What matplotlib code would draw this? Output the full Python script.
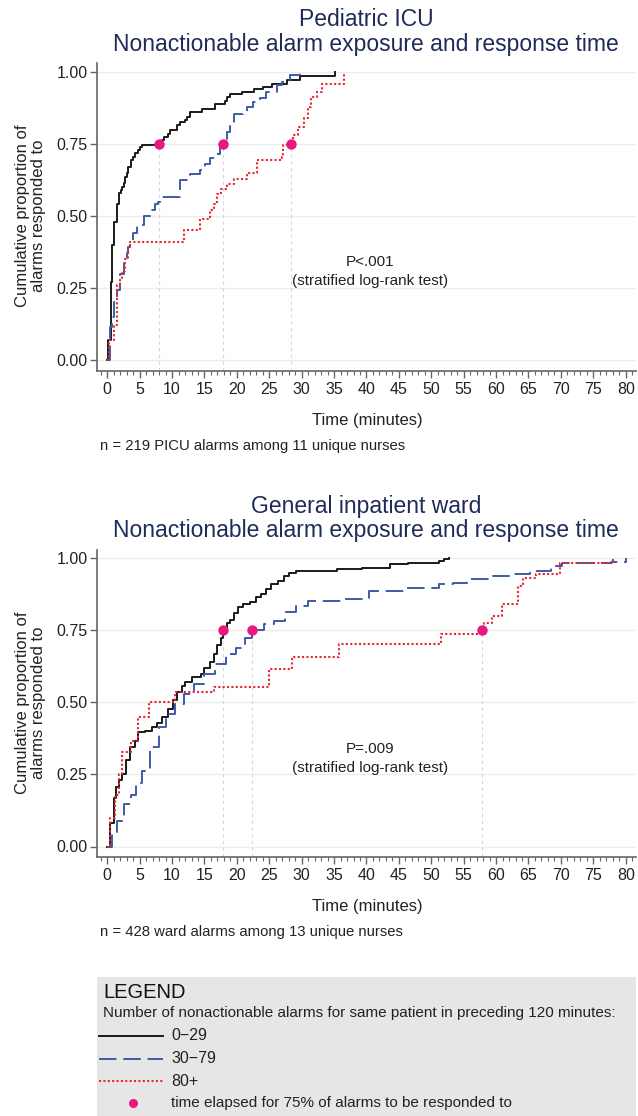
import matplotlib
matplotlib.use('Agg')
import matplotlib.pyplot as plt
from matplotlib.ticker import MultipleLocator, FixedLocator

plt.rcParams['font.family'] = ['Liberation Sans', 'DejaVu Sans']

# ---------------- data ----------------
groups = ['0\u221229', '30\u221279', '80+']

picu_black_t = [0, 0.17, 0.53, 0.8, 1.1, 1.46, 1.87, 2.1, 2.3, 2.5, 2.75, 3.0, 3.26, 3.6, 4.0, 4.3, 4.7,
                5.06, 5.3, 8.4, 8.8, 9.4, 9.7, 10.7, 11.2, 12.0, 12.3, 12.8, 14.6, 16.6, 18.2, 18.4, 18.9,
                20.8, 22.6, 24.1, 25.4, 27.7, 29.7, 35.1]
picu_black_p = [0, 0.07, 0.27, 0.40, 0.48, 0.54, 0.58, 0.59, 0.60, 0.613, 0.636, 0.65, 0.67, 0.694, 0.705,
                0.72, 0.73, 0.74, 0.746, 0.763, 0.775, 0.786, 0.798, 0.815, 0.827, 0.835, 0.844, 0.861, 0.873,
                0.89, 0.90, 0.913, 0.925, 0.93, 0.942, 0.948, 0.957, 0.971, 0.985, 1.0]

picu_blue_t = [0, 0.43, 0.69, 1.0, 1.46, 1.97, 2.5, 3.0, 3.27, 3.53, 4.03, 4.6, 5.6, 6.7, 7.4, 7.9, 8.15,
               11.2, 12.5, 12.8, 14.3, 15.1, 15.9, 16.6, 17.4, 17.8, 18.4, 19.0, 19.5, 21.0, 21.5, 22.5,
               23.5, 24.5, 26.2, 27.0, 28.2, 29.7]
picu_blue_p = [0, 0.116, 0.15, 0.20, 0.244, 0.30, 0.336, 0.37, 0.394, 0.41, 0.44, 0.47, 0.50, 0.52, 0.543,
               0.549, 0.566, 0.624, 0.635, 0.645, 0.66, 0.68, 0.70, 0.717, 0.74, 0.75, 0.79, 0.82, 0.855,
               0.862, 0.88, 0.895, 0.91, 0.93, 0.954, 0.965, 0.988, 1.0]

picu_red_t = [0, 0.2, 1.0, 1.46, 1.97, 2.2, 2.76, 3.27, 3.5, 11.8, 14.3, 15.9, 16.4, 16.9, 17.6, 18.5,
              19.5, 21.5, 23.1, 26.9, 27.1, 28.7, 29.5, 30.3, 31.0, 31.5, 32.3, 33.1, 36.5]
picu_red_p = [0, 0.07, 0.12, 0.26, 0.28, 0.31, 0.35, 0.39, 0.41, 0.45, 0.49, 0.52, 0.543, 0.578, 0.595,
              0.61, 0.63, 0.65, 0.694, 0.705, 0.745, 0.78, 0.81, 0.84, 0.88, 0.913, 0.93, 0.96, 1.0]

ward_black_t = [0, 0.43, 0.97, 1.4, 1.78, 2.3, 2.86, 3.57, 4.2, 4.75, 5.8, 6.9, 7.7, 8.5, 9.3, 10.2, 10.7,
                11.5, 12.0, 13.1, 14.5, 15.0, 15.8, 16.4, 16.9, 17.5, 17.8, 18.5, 19.0, 19.6, 20.2, 21.0,
                22.0, 22.9, 23.7, 24.5, 25.3, 26.4, 27.2, 28.0, 29.1, 35.5, 39.3, 43.7, 46.4, 51.2, 52.0, 52.7]
ward_black_p = [0, 0.08, 0.17, 0.205, 0.23, 0.25, 0.30, 0.344, 0.367, 0.396, 0.40, 0.413, 0.43, 0.448,
                0.477, 0.51, 0.535, 0.558, 0.57, 0.587, 0.598, 0.62, 0.64, 0.667, 0.70, 0.725, 0.75, 0.777,
                0.785, 0.81, 0.83, 0.84, 0.85, 0.864, 0.875, 0.893, 0.91, 0.92, 0.94, 0.95, 0.956, 0.962,
                0.968, 0.979, 0.985, 0.99, 0.997, 1.0]

ward_blue_t = [0, 0.7, 1.5, 2.6, 3.7, 4.5, 5.3, 6.6, 8.0, 9.1, 10.4, 11.8, 13.4, 15.0, 16.6, 18.3, 19.9,
               21.2, 22.4, 24.2, 25.8, 27.4, 29.1, 31.0, 36.1, 40.4, 45.8, 51.2, 53.4, 55.5, 58.8, 62.0,
               65.3, 68.5, 70.1, 77.7, 80.0]
ward_blue_p = [0, 0.044, 0.09, 0.148, 0.18, 0.22, 0.263, 0.344, 0.413, 0.46, 0.494, 0.529, 0.563, 0.598,
               0.633, 0.667, 0.69, 0.725, 0.75, 0.771, 0.783, 0.812, 0.835, 0.852, 0.858, 0.887, 0.898,
               0.91, 0.916, 0.927, 0.939, 0.945, 0.956, 0.973, 0.985, 0.988, 1.0]

ward_red_t = [0, 0.43, 1.24, 1.78, 2.3, 3.67, 4.75, 6.4, 10.4, 16.5, 25.0, 28.5, 35.8, 51.5, 57.8, 58.2,
              59.3, 60.9, 63.4, 64.2, 66.1, 69.9, 78.0]
ward_red_p = [0, 0.10, 0.18, 0.25, 0.327, 0.367, 0.448, 0.50, 0.535, 0.552, 0.615, 0.656, 0.704, 0.739,
              0.75, 0.777, 0.80, 0.84, 0.904, 0.933, 0.945, 0.985, 1.0]

picu_t75 = [8.0, 17.8, 28.4]
ward_t75 = [17.8, 22.4, 57.8]
q75 = 0.75

yticks = [0.0, 0.25, 0.5, 0.75, 1.0]
ytick_labels = ['0.00', '0.25', '0.50', '0.75', '1.00']
xticks = list(range(0, 81, 5))

# ---------------- style ----------------
W, H = 638, 1116
colors = ['#1a1a1a', '#3d5ca8', '#e8262f']
styles = ['-', (0, (9, 3.5)), (0, (1.0, 1.1))]
widths = [1.4, 1.4, 1.5]
marker_color = '#e9187c'
title_color = '#1f2b58'
spine_color = '#666666'

fig = plt.figure(figsize=(W / 100, H / 100), dpi=100)


def fx(px):
    return px / W


def fy(py):
    return 1 - py / H


def make_panel(top_px, zero_px, one_px, spine_px, series, t75, title1, title2, ptext, ntext):
    unit = zero_px - one_px
    ybot = -(spine_px - zero_px) / unit
    ytop = 1.03
    top_edge = one_px - (ytop - 1) * unit
    ax_w = 636 - 96.7
    ax_h = spine_px - top_edge
    ax = fig.add_axes([fx(96.7), fy(spine_px), ax_w / W, ax_h / H])
    ax.set_xlim((96.7 - 107.3) / 6.48, (636 - 107.3) / 6.48)
    ax.set_ylim(ybot, ytop)
    for s in ['top', 'right']:
        ax.spines[s].set_visible(False)
    for s in ['left', 'bottom']:
        ax.spines[s].set_color(spine_color)
        ax.spines[s].set_linewidth(1.2)
    for yv in yticks:
        ax.axhline(yv, color='#ececec', lw=1.0, zorder=0)
    ax.yaxis.set_major_locator(FixedLocator(yticks))
    ax.set_yticklabels(ytick_labels)
    ax.xaxis.set_major_locator(FixedLocator(xticks))
    ax.xaxis.set_minor_locator(MultipleLocator(1))
    ax.tick_params(axis='y', direction='out', length=5, width=1.0, color=spine_color,
                   labelsize=11.5, pad=1.5, labelcolor='#222222')
    ax.tick_params(axis='x', which='major', direction='out', length=5, width=1.0, color=spine_color,
                   labelsize=11.5, pad=3, labelcolor='#222222')
    ax.tick_params(axis='x', which='minor', direction='out', length=3, width=0.8, color=spine_color)
    # vertical guides
    for tv in t75:
        ax.plot([tv, tv], [ybot, q75], color='#d6d6d6', lw=0.8, ls=(0, (3, 3)), zorder=1)
    for (tt, pp), c, ls, lw in zip(series, colors, styles, widths):
        ax.plot(tt, pp, drawstyle='steps-post', color=c, ls=ls, lw=lw, zorder=3)
    ax.plot(t75, [q75] * len(t75), 'o', color=marker_color, ms=7.5, mec='none', zorder=5)
    ax.text(40.6, 0.34, ptext, ha='center', va='center', fontsize=11, color='#222222')
    ax.text(40.6, 0.274, '(stratified log-rank test)', ha='center', va='center', fontsize=11,
            color='#222222')
    ax.set_ylabel('Cumulative proportion of\nalarms responded to', fontsize=12, color='#222222',
                  linespacing=1.05)
    mid = (zero_px + one_px) / 2
    ax.yaxis.set_label_coords(-(96.7 - 46) / ax_w, (spine_px - mid) / ax_h)
    cx = (96.7 + 636) / 2
    fig.text(fx(cx), fy(top_px), title1, ha='center', va='center', fontsize=16.5, color=title_color)
    fig.text(fx(cx), fy(top_px + 25), title2, ha='center', va='center', fontsize=16.5, color=title_color)
    fig.text(fx(367), fy(spine_px + 50), 'Time (minutes)', ha='center', va='center', fontsize=12,
             color='#222222')
    fig.text(fx(100), fy(spine_px + 75), ntext, ha='left', va='center', fontsize=10.7, color='#222222')
    return ax


make_panel(20, 360, 72, 370.7,
           [(picu_black_t, picu_black_p), (picu_blue_t, picu_blue_p), (picu_red_t, picu_red_p)],
           picu_t75, 'Pediatric ICU', 'Nonactionable alarm exposure and response time', 'P<.001',
           'n = 219 PICU alarms among 11 unique nurses')

make_panel(506, 846.5, 558.3, 856.7,
           [(ward_black_t, ward_black_p), (ward_blue_t, ward_blue_p), (ward_red_t, ward_red_p)],
           ward_t75, 'General inpatient ward', 'Nonactionable alarm exposure and response time', 'P=.009',
           'n = 428 ward alarms among 13 unique nurses')

# ---------------- legend box ----------------
lg = fig.add_axes([fx(96.7), 0, fx(636) - fx(96.7), (H - 977) / H])
lg.set_xlim(96.7, 636)
lg.set_ylim(H, 977)
lg.set_facecolor('#e6e6e6')
for s in lg.spines.values():
    s.set_visible(False)
lg.set_xticks([])
lg.set_yticks([])
lg.text(103, 992, 'LEGEND', fontsize=14.5, va='center', ha='left', color='#111111')
lg.text(103, 1013, 'Number of nonactionable alarms for same patient in preceding 120 minutes:',
        fontsize=11, va='center', ha='left', color='#222222')
for i, (g, c, ls, lw) in enumerate(zip(groups, colors, styles, widths)):
    yy = 1036 + i * 22.5
    lg.plot([99, 163], [yy, yy], color=c, ls=ls, lw=lw)
    lg.text(171, yy, g, fontsize=11.5, va='center', ha='left', color='#222222')
lg.plot([133], [1103], 'o', color=marker_color, ms=6.5, mec='none')
lg.text(171, 1103, 'time elapsed for 75% of alarms to be responded to', fontsize=11, va='center',
        ha='left', color='#222222')

fig.savefig('out.png', dpi=100)
